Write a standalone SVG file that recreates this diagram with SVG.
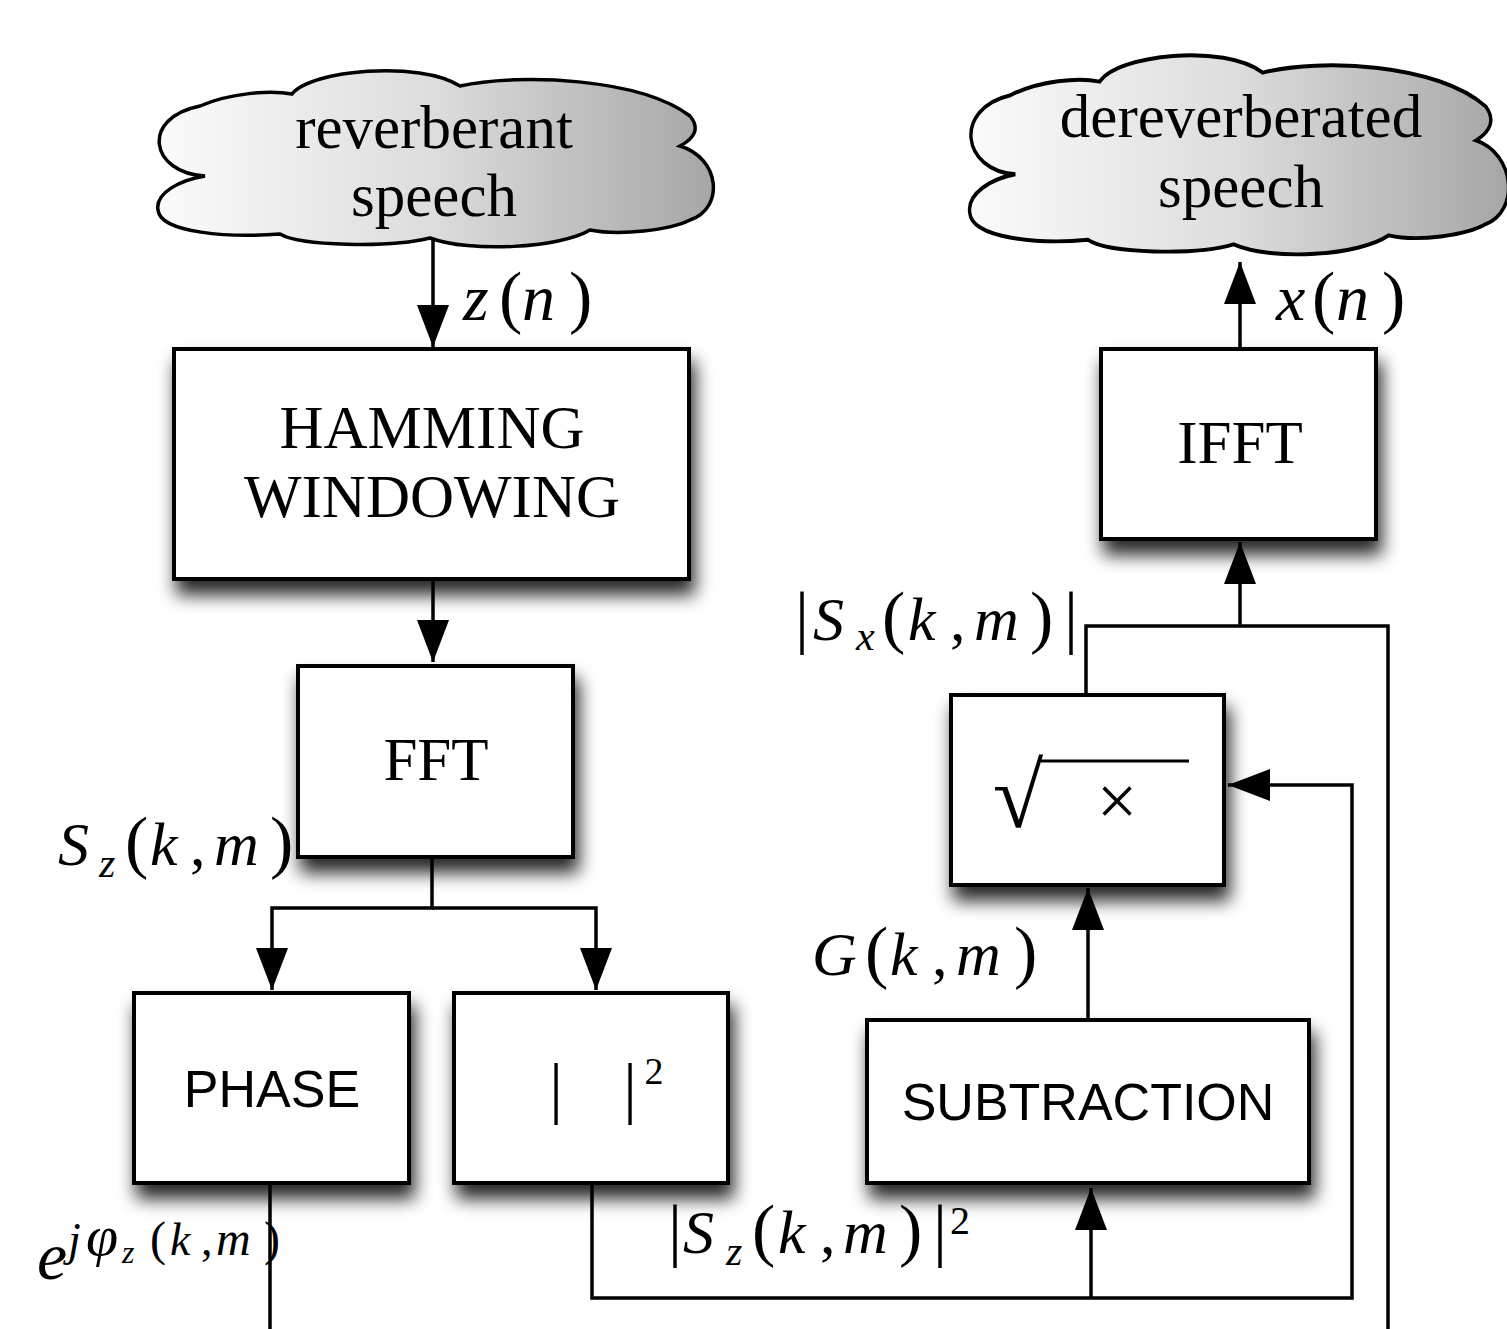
<svg xmlns="http://www.w3.org/2000/svg" width="1507" height="1329" viewBox="0 0 1507 1329">
<defs>
<style>
.box{fill:#fff;stroke:#000;stroke-width:4;filter:url(#sh)}
.cloud{fill:url(#cg);stroke:#000;stroke-width:3.5;vector-effect:non-scaling-stroke}
.w{fill:none;stroke:#000;stroke-width:3.5}
.serif{font-family:"Liberation Serif","Times New Roman",serif;font-size:61px;fill:#000}
.sans{font-family:"Liberation Sans",Arial,sans-serif;font-size:52px;fill:#000}
.m{font-family:"Liberation Serif","Times New Roman",serif;font-size:62px;fill:#000}
.i{font-style:italic}
</style>
<linearGradient id="cg" x1="0" y1="0" x2="1" y2="0">
<stop offset="0" stop-color="#fbfbfb"/>
<stop offset="0.5" stop-color="#dcdcdc"/>
<stop offset="1" stop-color="#a6a6a6"/>
</linearGradient>
<filter id="sh" x="-20%" y="-20%" width="140%" height="160%">
<feGaussianBlur in="SourceAlpha" stdDeviation="9"/>
<feOffset dx="4" dy="14"/>
<feComponentTransfer><feFuncA type="linear" slope="0.85"/></feComponentTransfer>
<feMerge><feMergeNode/><feMergeNode in="SourceGraphic"/></feMerge>
</filter>
<marker id="ah" markerUnits="userSpaceOnUse" markerWidth="42" markerHeight="32" refX="42" refY="16" orient="auto">
<path d="M0,0 L42,16 L0,32 Z" fill="#000"/>
</marker>
<path id="cloudp" d="M55,110 C0,107 -10,52 50,40 C80,27 120,24 142,28 C160,4 270,-6 310,20 C370,7 490,12 540,50 C550,62 545,72 530,80 C570,92 575,142 540,154 C520,164 470,170 440,164 C410,182 320,187 280,172 C240,182 150,180 130,168 C80,172 10,167 8,144 C5,127 30,114 55,110 Z"/>
</defs>
<rect width="1507" height="1329" fill="#fff"/>

<g id="connectors">
<line class="w" x1="433" y1="238" x2="433" y2="347" marker-end="url(#ah)"/>
<line class="w" x1="433" y1="581" x2="433" y2="662" marker-end="url(#ah)"/>
<polyline class="w" points="432,857 432,908 272,908 272,990" marker-end="url(#ah)"/>
<polyline class="w" points="432,908 596,908 596,990" marker-end="url(#ah)"/>
<line class="w" x1="270" y1="1185" x2="270" y2="1329"/>
<polyline class="w" points="592,1185 592,1298 1352,1298 1352,785 1228,785" marker-end="url(#ah)"/>
<line class="w" x1="1091" y1="1298" x2="1091" y2="1188" marker-end="url(#ah)"/>
<line class="w" x1="1088" y1="1020" x2="1088" y2="888" marker-end="url(#ah)"/>
<polyline class="w" points="1086,695 1086,626 1388,626 1388,1329"/>
<line class="w" x1="1240" y1="626" x2="1240" y2="542" marker-end="url(#ah)"/>
<line class="w" x1="1240" y1="349" x2="1240" y2="262" marker-end="url(#ah)"/>
</g>

<g id="cloud-reverberant">
<use href="#cloudp" class="cloud" transform="translate(150,66)"/>
<text class="serif" x="434" y="148" text-anchor="middle">reverberant</text>
<text class="serif" x="434" y="216" text-anchor="middle">speech</text>
</g>

<g id="cloud-dereverberated">
<use href="#cloudp" class="cloud" transform="translate(962,50) scale(0.97,1.13)"/>
<text class="serif" x="1241" y="137" text-anchor="middle">dereverberated</text>
<text class="serif" x="1241" y="207" text-anchor="middle">speech</text>
</g>

<g id="hamming">
<rect class="box" x="174" y="349" width="515" height="230"/>
<text class="serif" x="432" y="448" text-anchor="middle">HAMMING</text>
<text class="serif" x="432" y="517" text-anchor="middle">WINDOWING</text>
</g>

<g id="fft">
<rect class="box" x="298" y="666" width="275" height="191"/>
<text class="serif" x="436" y="780" text-anchor="middle">FFT</text>
</g>

<g id="phase">
<rect class="box" x="134" y="993" width="275" height="190"/>
<text class="sans" x="272" y="1107" text-anchor="middle">PHASE</text>
</g>

<g id="magsq">
<rect class="box" x="454" y="993" width="274" height="190"/>
<text class="serif" x="556" y="1111" text-anchor="middle" style="font-size:68px">|</text>
<text class="serif" x="630" y="1111" text-anchor="middle" style="font-size:68px">|</text>
<text class="serif" x="654" y="1084" text-anchor="middle" style="font-size:38px">2</text>
</g>

<g id="subtraction">
<rect class="box" x="867" y="1020" width="442" height="163"/>
<text class="sans" x="1088" y="1120" text-anchor="middle">SUBTRACTION</text>
</g>

<g id="sqrt">
<rect class="box" x="951" y="695" width="273" height="190"/>
<text class="serif" x="1018" y="827" text-anchor="middle" style="font-size:92px">√</text>
<line x1="1041" y1="761" x2="1189" y2="761" stroke="#000" stroke-width="3"/>
<text class="serif" x="1117" y="825" text-anchor="middle" style="font-size:72px">×</text>
</g>

<g id="ifft">
<rect class="box" x="1101" y="349" width="275" height="190"/>
<text class="serif" x="1240" y="463" text-anchor="middle">IFFT</text>
</g>

<g id="labels">
<text class="m" y="320"><tspan x="463" class="i" font-size="66">z</tspan><tspan x="499" font-size="70">(</tspan><tspan x="522" class="i" font-size="66">n</tspan><tspan x="569" font-size="70">)</tspan></text>
<text class="m" y="320"><tspan x="1276" class="i" font-size="66">x</tspan><tspan x="1312" font-size="70">(</tspan><tspan x="1336" class="i" font-size="66">n</tspan><tspan x="1382" font-size="70">)</tspan></text>
<text class="m" y="865"><tspan x="58" class="i">S</tspan><tspan x="99" y="877" class="i" font-size="42">z</tspan><tspan x="125" y="865" font-size="70">(</tspan><tspan x="150" class="i">k</tspan><tspan x="190">,</tspan><tspan x="214" class="i">m</tspan><tspan x="270" font-size="70">)</tspan></text>
<text class="m" y="975"><tspan x="812" class="i">G</tspan><tspan x="865" font-size="70">(</tspan><tspan x="890" class="i">k</tspan><tspan x="932">,</tspan><tspan x="956" class="i">m</tspan><tspan x="1014" font-size="70">)</tspan></text>
<text class="m" y="640"><tspan x="795" font-size="70">|</tspan><tspan x="813" class="i">S</tspan><tspan x="856" y="650" class="i" font-size="42">x</tspan><tspan x="882" y="640" font-size="70">(</tspan><tspan x="908" class="i">k</tspan><tspan x="950">,</tspan><tspan x="974" class="i">m</tspan><tspan x="1030" font-size="70">)</tspan><tspan x="1064" font-size="70">|</tspan></text>
<text class="m" y="1279"><tspan x="37" class="i" font-size="68">e</tspan><tspan x="68" y="1255" class="i" font-size="46">j</tspan><tspan x="86" class="i" font-size="58">φ</tspan><tspan x="122" y="1263" class="i" font-size="32">z</tspan><tspan x="150" y="1255" font-size="48">(</tspan><tspan x="170" class="i" font-size="46">k</tspan><tspan x="201" font-size="46">,</tspan><tspan x="216" class="i" font-size="48">m</tspan><tspan x="264" font-size="48">)</tspan></text>
<text class="m" y="1253"><tspan x="668" font-size="70">|</tspan><tspan x="683" class="i">S</tspan><tspan x="726" y="1265" class="i" font-size="42">z</tspan><tspan x="752" y="1253" font-size="70">(</tspan><tspan x="778" class="i">k</tspan><tspan x="820">,</tspan><tspan x="843" class="i">m</tspan><tspan x="899" font-size="70">)</tspan><tspan x="933" font-size="70">|</tspan><tspan x="950" y="1234" font-size="40">2</tspan></text>
</g>
</svg>
